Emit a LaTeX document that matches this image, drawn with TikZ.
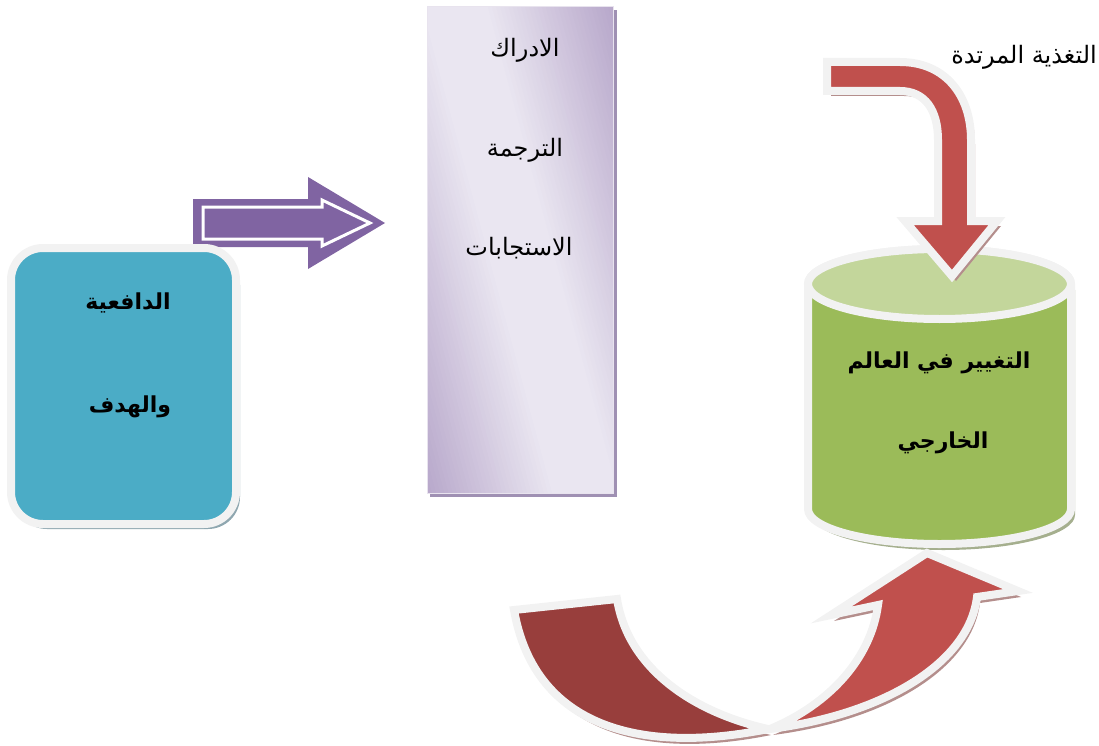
\documentclass[tikz,border=0pt]{standalone}
\usepackage{fontspec}
\TeXXeTstate=1
\newfontfamily\arabicfont[Script=Arabic]{DejaVu Sans}
\definecolor{boxblue}{HTML}{4BACC6}
\definecolor{boxshadow}{HTML}{8FA7B0}
\definecolor{arrowpurple}{HTML}{8064A2}
\definecolor{lavdark}{HTML}{B3A2C7}
\definecolor{lavlight}{HTML}{EAE6F1}
\definecolor{lavshadow}{HTML}{9F90B3}
\definecolor{cylgreen}{HTML}{9BBB59}
\definecolor{cyltop}{HTML}{C3D69B}
\definecolor{cylshadow}{HTML}{A5AF8E}
\definecolor{redlight}{HTML}{C0504D}
\definecolor{reddark}{HTML}{983E3C}
\definecolor{redshadow}{HTML}{B48E8C}
\definecolor{rim}{HTML}{F2F2F2}
\tikzset{
  rimmed/.style={draw=rim, line width=8pt, line join=miter},
  lbl/.style={inner sep=0pt, text=black},
  boldlbl/.style={lbl, font=\arabicfont\bfseries\fontsize{22}{26}\selectfont},
  plainlbl/.style={lbl, font=\arabicfont\fontsize{24}{28}\selectfont}
}
\begin{document}
\begin{tikzpicture}[x=1pt,y=-1pt]
\useasboundingbox (0,0) rectangle (1099,746);

% ---- tall lavender panel ----
\fill[lavshadow] (430,10) rectangle (617,497);
\begin{scope}
  \clip (427,7) rectangle (613,493);
  \foreach \s in {-200,-196,...,200}{
    \pgfmathsetmacro\p{max(0,100-max(0,abs(\s+2)-30)*0.75)}
    \fill[lavlight!\p!lavdark, rotate around={15:(520,250)}]
      (520+\s,-80) rectangle (760,580);
  }
\end{scope}
\draw[white!70!lavdark, line width=1pt] (427,7) rectangle (613,493);

% ---- purple block arrow ----
\fill[arrowpurple] (193,199) -- (308,199) -- (308,177) -- (385,223)
  -- (308,269) -- (308,247) -- (193,247) -- cycle;
\draw[white, line width=3pt, line join=miter]
  (203,207) -- (322,207) -- (322,200) -- (370,223) -- (322,246)
  -- (322,239) -- (203,239) -- cycle;

% ---- blue rounded box ----
\fill[boxshadow, rounded corners=32pt] (15,253) rectangle (240,529);
\draw[rimmed, fill=boxblue, rounded corners=32pt] (11,248) rectangle (236,524);

% ---- cylinder ----
\fill[cylshadow, shift={(4,6)}] (808,284) -- (808,509)
  arc[start angle=180, end angle=0, x radius=131.5, y radius=35]
  -- (1071,284)
  arc[start angle=0, end angle=-180, x radius=131.5, y radius=35] -- cycle;
\draw[rimmed, fill=cylgreen] (808,284) -- (808,509)
  arc[start angle=180, end angle=0, x radius=131.5, y radius=35]
  -- (1071,284)
  arc[start angle=0, end angle=-180, x radius=131.5, y radius=35] -- cycle;
\draw[rimmed, fill=cyltop] (939.5,284) ellipse[x radius=131.5, y radius=35];

% ---- top bent red arrow ----
\fill[redshadow, shift={(4,5)}] (827,62) -- (900,62)
  .. controls (945,62) and (971,95) .. (971,140) -- (971,221) -- (997,221)
  -- (952,276) -- (905,221) -- (938,221) -- (938,140)
  .. controls (938,110) and (925,91) .. (900,91) -- (827,91) -- cycle;
\draw[rimmed, fill=redlight] (827,62) -- (900,62)
  .. controls (945,62) and (971,95) .. (971,140) -- (971,221) -- (997,221)
  -- (952,276) -- (905,221) -- (938,221) -- (938,140)
  .. controls (938,110) and (925,91) .. (900,91) -- (827,91) -- cycle;

% ---- bottom curved up arrow ----
\fill[redshadow, shift={(3,6)}] (514,610) -- (617,599)
  .. controls (628,668) and (692,712) .. (768,729)
  .. controls (645,754) and (535,730) .. (514,610) -- cycle;
\fill[redshadow, shift={(3,6)}] (770,729)
  .. controls (886,714) and (969,662) .. (977,597) -- (1018,591) -- (927,553)
  -- (831,615) -- (878,605)
  .. controls (871,658) and (830,704) .. (770,729) -- cycle;
\draw[rimmed, fill=reddark] (514,610) -- (617,599)
  .. controls (628,668) and (692,712) .. (768,729)
  .. controls (645,754) and (535,730) .. (514,610) -- cycle;
\draw[rimmed, fill=redlight] (770,729)
  .. controls (886,714) and (969,662) .. (977,597) -- (1018,591) -- (927,553)
  -- (831,615) -- (878,605)
  .. controls (871,658) and (830,704) .. (770,729) -- cycle;

% ---- texts ----
\node[boldlbl] (motive) at (128,303) {\beginR الدافعية\endR};
\node[boldlbl] (goal) at (130,407) {\beginR والهدف\endR};
\node[plainlbl] (perception) at (525,50) {\beginR الادراك\endR};
\node[plainlbl] (translation) at (525,150) {\beginR الترجمة\endR};
\node[plainlbl] (responses) at (519,248) {\beginR الاستجابات\endR};
\node[boldlbl] (change1) at (939,363) {\beginR التغيير في العالم\endR};
\node[boldlbl] (change2) at (943,443) {\beginR الخارجي\endR};
\node[plainlbl] (feedback) at (1024,57) {\beginR التغذية المرتدة\endR};
\end{tikzpicture}
\end{document}
